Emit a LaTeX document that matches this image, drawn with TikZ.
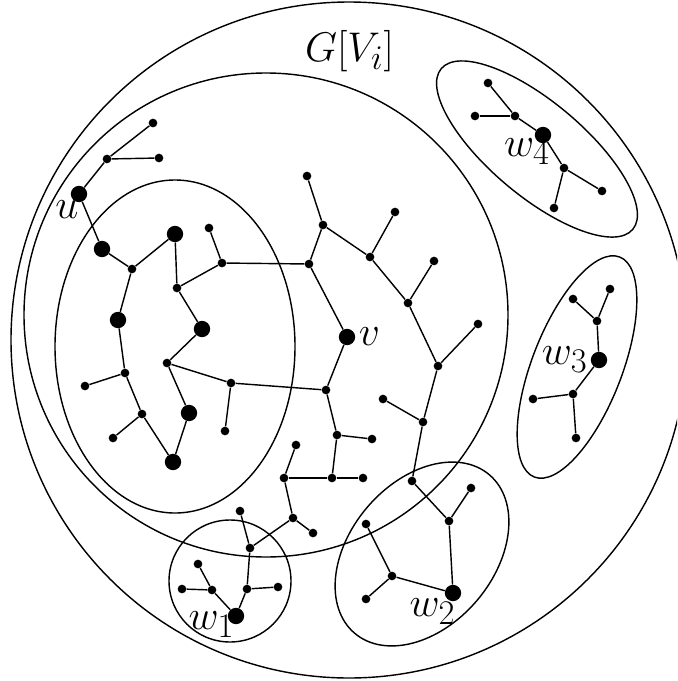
\documentclass[tikz,border=0pt]{standalone}
\usepackage{amsmath,amssymb}
\usepackage{tikz}
\usetikzlibrary{positioning}

\tikzset{
  vsmall/.style={circle, fill=black, inner sep=0pt, minimum size=5.2pt},
  vbig/.style={circle, fill=black, inner sep=0pt, minimum size=9.8pt},
  vlabel/.style={inner sep=0pt, font=\Huge},
  region/.style={line width=0.85pt},
  edge/.style={line width=0.85pt},
}

\begin{document}
\begin{tikzpicture}[x=0.6pt, y=-0.6pt]
  \useasboundingbox (0,0) rectangle (677,681);
  \clip (0,0) rectangle (677,681);

  % regions
  \draw[region] (349,340) circle [radius=338];
  \draw[region] (266,315) circle [radius=242];
  \draw[region] (175,346.5) ellipse [x radius=120, y radius=166.5];
  \draw[region] (230,581) circle [radius=61];
  \draw[region, rotate around={49.6:(422,554)}] (422,554) ellipse [x radius=104, y radius=72];
  \draw[region, rotate around={68.8:(577,367)}] (577,367) ellipse [x radius=118, y radius=45];
  \draw[region, rotate around={-40:(537,149)}] (537,149) ellipse [x radius=125, y radius=47];

  \node[vlabel] (gvi) at (349.5,51) {$G[V_i]$};

  % vertices near u
  \node[vsmall] (t1) at (153,123) {};
  \node[vsmall] (t2) at (107,159) {};
  \node[vsmall] (t3) at (159,158) {};
  \node[vbig]   (u)  at (79,194) {};

  % core
  \node[vbig]   (c1)  at (102,249) {};
  \node[vsmall] (c2)  at (132,269) {};
  \node[vbig]   (c3)  at (175,234) {};
  \node[vsmall] (c4)  at (209,228) {};
  \node[vsmall] (c5)  at (222,263) {};
  \node[vsmall] (c6)  at (177,288) {};
  \node[vbig]   (c7)  at (118,320) {};
  \node[vbig]   (c8)  at (202,329) {};
  \node[vsmall] (c9)  at (167,363) {};
  \node[vsmall] (c10) at (125,373) {};
  \node[vsmall] (c11) at (85,386) {};
  \node[vsmall] (c12) at (142,414) {};
  \node[vsmall] (c13) at (113,438) {};
  \node[vbig]   (c14) at (189,413) {};
  \node[vbig]   (c15) at (173,462) {};
  \node[vsmall] (c16) at (231,383) {};
  \node[vsmall] (c17) at (225,431) {};

  % middle tree
  \node[vsmall] (m1)  at (309,264) {};
  \node[vsmall] (m2)  at (307,176) {};
  \node[vsmall] (m3)  at (323,225) {};
  \node[vsmall] (m4)  at (395,212) {};
  \node[vsmall] (m5)  at (370,257) {};
  \node[vsmall] (m6)  at (434,261) {};
  \node[vsmall] (m7)  at (408,303) {};
  \node[vsmall] (m8)  at (438,366) {};
  \node[vsmall] (m9)  at (478,324) {};
  \node[vbig]   (v)   at (347,337) {};
  \node[vsmall] (m10) at (326,390) {};
  \node[vsmall] (m11) at (383,399) {};
  \node[vsmall] (m12) at (423,422) {};
  \node[vsmall] (m13) at (412,481) {};
  \node[vsmall] (m14) at (337,435) {};
  \node[vsmall] (m15) at (372,439) {};
  \node[vsmall] (m16) at (296,445) {};
  \node[vsmall] (m17) at (284,478) {};
  \node[vsmall] (m18) at (332,478) {};
  \node[vsmall] (m19) at (363,478) {};
  \node[vsmall] (m20) at (293,518) {};
  \node[vsmall] (m21) at (313,533) {};

  % w1 part
  \node[vsmall] (p1) at (240,511) {};
  \node[vsmall] (p2) at (250,548) {};
  \node[vsmall] (p3) at (198,564) {};
  \node[vsmall] (p4) at (182,589) {};
  \node[vsmall] (p5) at (212,590) {};
  \node[vsmall] (p6) at (247,589) {};
  \node[vsmall] (p7) at (278,587) {};
  \node[vbig]   (w1) at (236,616) {};

  % w2 part
  \node[vsmall] (q1) at (449,521) {};
  \node[vsmall] (q2) at (471,488) {};
  \node[vsmall] (q3) at (366,524) {};
  \node[vsmall] (q4) at (392,576) {};
  \node[vsmall] (q5) at (366,599) {};
  \node[vbig]   (w2) at (453,593) {};

  % w3 part
  \node[vsmall] (r1) at (573,299) {};
  \node[vsmall] (r2) at (610,289) {};
  \node[vsmall] (r3) at (597,321) {};
  \node[vbig]   (w3) at (599,360) {};
  \node[vsmall] (r4) at (573,394) {};
  \node[vsmall] (r5) at (533,399) {};
  \node[vsmall] (r6) at (576,438) {};

  % w4 part
  \node[vsmall] (s1) at (488,83) {};
  \node[vsmall] (s2) at (475,116) {};
  \node[vsmall] (s3) at (515,116) {};
  \node[vbig]   (w4) at (543,135) {};
  \node[vsmall] (s4) at (564,168) {};
  \node[vsmall] (s5) at (602,191) {};
  \node[vsmall] (s6) at (554,208) {};

  % edges
  \foreach \a/\b in {t1/t2, t2/t3, t2/u, u/c1, c1/c2, c2/c3, c3/c6, c6/c5,
      c5/c4, c2/c7, c7/c10, c10/c11, c10/c12, c12/c13, c12/c15, c15/c14,
      c14/c9, c9/c8, c8/c6, c9/c16, c16/c17, c16/m10, c5/m1,
      m1/m3, m3/m2, m3/m5, m5/m4, m5/m7, m7/m6, m7/m8, m8/m9, m8/m12,
      m11/m12, m12/m13, m1/v, v/m10, m10/m14, m14/m15, m14/m18, m18/m17,
      m18/m19, m17/m16, m17/m20, m20/m21,
      m20/p2, p1/p2, p2/p6, p6/p7, p6/w1, w1/p5, p5/p3, p5/p4,
      m13/q1, q1/q2, q1/w2, w2/q4, q4/q3, q4/q5,
      r1/r3, r2/r3, r3/w3, w3/r4, r4/r5, r4/r6,
      s1/s3, s2/s3, s3/w4, w4/s4, s4/s5, s4/s6}
    \draw[edge] (\a) -- (\b);

  % labels
  \node[vlabel] (ulab) at (67,210) {$u$};
  \node[vlabel, right=1.8pt of v] (vlab) {$v$};
  \node[vlabel] (w1lab) at (211.5,625) {$w_1$};
  \node[vlabel] (w2lab) at (432.5,612) {$w_2$};
  \node[vlabel, left=1.5pt of w3] (w3lab) {$w_3$};
  \node[vlabel] (w4lab) at (527,152) {$w_4$};
\end{tikzpicture}
\end{document}
